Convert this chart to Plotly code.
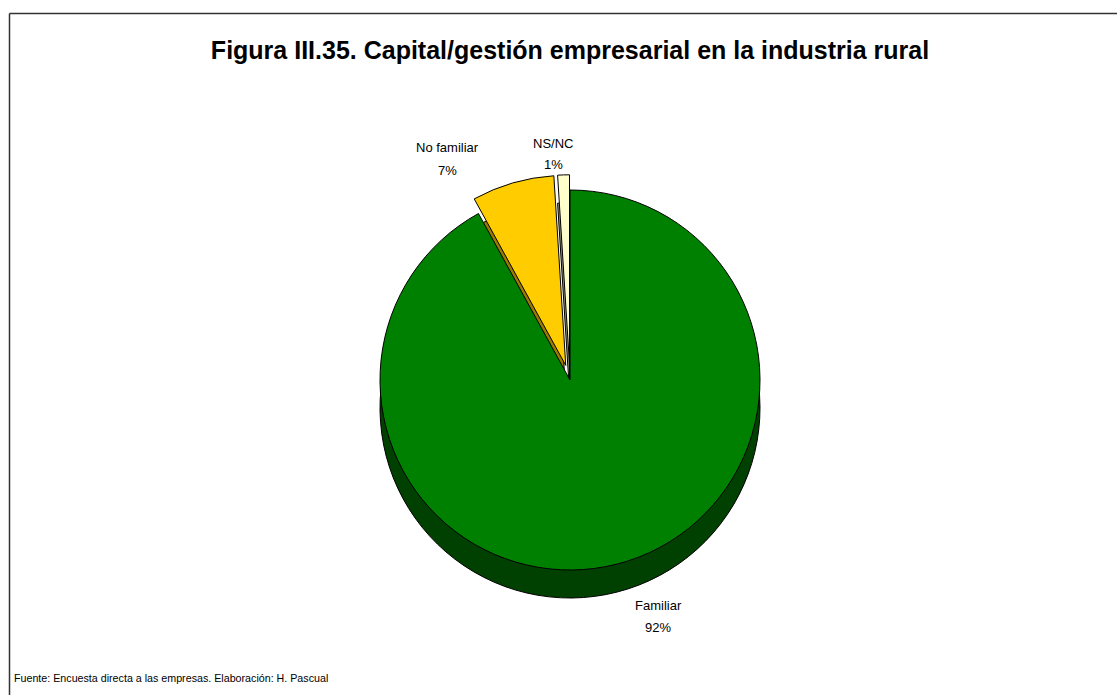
import plotly.graph_objects as go

labels = ["Familiar", "No familiar", "NS/NC"]
values = [92, 7, 1]
top_colors = ["#008000", "#FFCC00", "#FFFFCC"]
side_colors = ["#004000", "#9A7B00", "#9A9A7A"]
pulls = [0, 0.08, 0.08]

title_text = "Figura III.35. Capital/gestión empresarial en la industria rural"
source_text = "Fuente: Encuesta directa a las empresas. Elaboración: H. Pascual"

W, H = 1117, 695
cx, cy, R = 570, 380, 190
depth = 28
half = R * 1.08

# label placement (pixel centres) — styling only
label_pos = [(658, 605), (447, 148), (553, 143)]
line_gap = 22
FONT = "Liberation Sans, Arial"

def dom(cxp, cyp):
    return dict(x=[(cxp - half) / W, (cxp + half) / W],
                y=[1 - (cyp + half) / H, 1 - (cyp - half) / H])

fig = go.Figure()
fig.add_trace(go.Pie(
    labels=labels, values=values, sort=False, direction="clockwise", rotation=0,
    pull=pulls, domain=dom(cx, cy + depth),
    marker=dict(colors=side_colors, line=dict(color="black", width=1)),
    textinfo="none", hoverinfo="skip", showlegend=False,
))
fig.add_trace(go.Pie(
    labels=labels, values=values, sort=False, direction="clockwise", rotation=0,
    pull=pulls, domain=dom(cx, cy),
    marker=dict(colors=top_colors, line=dict(color="black", width=1)),
    textinfo="none", showlegend=False,
))

total = sum(values)
annotations = []
for lab, val, (px, py) in zip(labels, values, label_pos):
    pct = f"{round(100 * val / total)}%"
    for i, txt in enumerate([lab, pct]):
        annotations.append(dict(
            text=txt, x=px / W, y=1 - (py + i * line_gap) / H, xref="paper", yref="paper",
            xanchor="center", yanchor="middle", showarrow=False,
            font=dict(family=FONT, size=13, color="black")))

annotations.append(dict(text=source_text, x=12 / W, y=1 - 678 / H, xref="paper", yref="paper",
                        xanchor="left", yanchor="middle", showarrow=False,
                        font=dict(family=FONT, size=10.7, color="black")))

fig.update_layout(
    width=W, height=H,
    margin=dict(l=0, r=0, t=0, b=0),
    paper_bgcolor="white", plot_bgcolor="white",
    title=dict(text="<b>" + title_text + "</b>", x=570 / W, xanchor="center",
               y=1 - 50 / H, yanchor="middle",
               font=dict(family=FONT, size=25, color="black")),
    shapes=[
        dict(type="line", xref="paper", yref="paper", x0=9.5 / W, x1=1.0,
             y0=1 - 13.5 / H, y1=1 - 13.5 / H, line=dict(color="#333333", width=1.5)),
        dict(type="line", xref="paper", yref="paper", x0=9.5 / W, x1=9.5 / W,
             y0=0, y1=1 - 13.5 / H, line=dict(color="#333333", width=1.5)),
    ],
    annotations=annotations,
)

fig.write_html("out.html", post_script="document.body.style.margin='0px';",
               config={"displayModeBar": False})
